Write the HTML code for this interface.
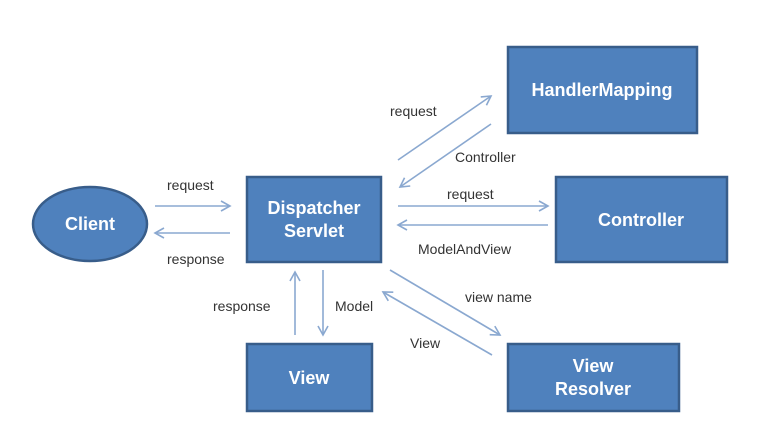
<!DOCTYPE html>
<html><head><meta charset="utf-8"><style>
html,body{margin:0;padding:0;background:#fff;}
svg{display:block;}
.b{fill:#4f81bd;stroke:#385d8a;stroke-width:2.5;}
.t{font-family:"Liberation Sans",sans-serif;font-weight:bold;font-size:18px;fill:#fff;text-anchor:middle;}
.l{font-family:"Liberation Sans",sans-serif;font-size:14px;fill:#333;}
.a{stroke:#8aa8d0;stroke-width:1.6;fill:none;}
</style></head><body>
<svg width="773" height="431" viewBox="0 0 773 431">
<defs><marker id="m" markerWidth="12" markerHeight="12" refX="10" refY="6" orient="auto" markerUnits="userSpaceOnUse"><path d="M1,1 L10,6 L1,11" fill="none" stroke="#8aa8d0" stroke-width="1.6"/></marker></defs>
<ellipse class="b" cx="90" cy="224" rx="57" ry="37"/>
<text class="t" x="90" y="230">Client</text>
<rect class="b" x="247" y="177" width="134" height="85"/>
<text class="t" x="314" y="214">Dispatcher</text>
<text class="t" x="314" y="237">Servlet</text>
<rect class="b" x="247" y="344" width="125" height="67"/>
<text class="t" x="309" y="384">View</text>
<rect class="b" x="508" y="47" width="189" height="86"/>
<text class="t" x="602" y="96">HandlerMapping</text>
<rect class="b" x="556" y="177" width="171" height="85"/>
<text class="t" x="641" y="226">Controller</text>
<rect class="b" x="508" y="344" width="171" height="67"/>
<text class="t" x="593" y="372">View</text>
<text class="t" x="593" y="395">Resolver</text>

<line class="a" x1="155" y1="206" x2="230" y2="206" marker-end="url(#m)"/>
<line class="a" x1="230" y1="233" x2="155" y2="233" marker-end="url(#m)"/>
<text class="l" x="167" y="190">request</text>
<text class="l" x="167" y="264">response</text>

<line class="a" x1="295" y1="335" x2="295" y2="272" marker-end="url(#m)"/>
<line class="a" x1="323" y1="270" x2="323" y2="335" marker-end="url(#m)"/>
<text class="l" x="213" y="311">response</text>
<text class="l" x="335" y="311">Model</text>

<line class="a" x1="398" y1="160" x2="491" y2="96" marker-end="url(#m)"/>
<line class="a" x1="491" y1="124" x2="400" y2="187" marker-end="url(#m)"/>
<text class="l" x="390" y="116">request</text>
<text class="l" x="455" y="162">Controller</text>

<line class="a" x1="398" y1="206" x2="548" y2="206" marker-end="url(#m)"/>
<line class="a" x1="548" y1="225" x2="398" y2="225" marker-end="url(#m)"/>
<text class="l" x="447" y="199">request</text>
<text class="l" x="418" y="254">ModelAndView</text>

<line class="a" x1="390" y1="270" x2="500" y2="335" marker-end="url(#m)"/>
<line class="a" x1="492" y1="355" x2="383" y2="292" marker-end="url(#m)"/>
<text class="l" x="465" y="302">view name</text>
<text class="l" x="410" y="348">View</text>
</svg>
</body></html>
